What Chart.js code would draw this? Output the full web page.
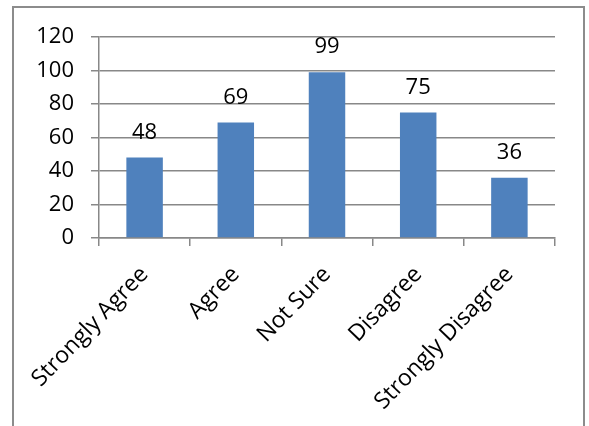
<!DOCTYPE html>
<html>
<head>
<meta charset="utf-8">
<script src="https://cdn.jsdelivr.net/npm/chart.js@4/dist/chart.umd.min.js"></script>
<style>
    html, body { margin: 0; padding: 0; background: #fff; }
    body { width: 589px; height: 426px; position: relative; overflow: hidden; }
    #frame {
        position: absolute; left: 12px; top: 6px; width: 573px; height: 440px;
        border: 2px solid #8c8c8c; box-sizing: border-box;
    }
    #wrap { position: absolute; left: 0; top: 0; width: 589px; height: 426px; }
</style>
</head>
<body>
<div id="frame"></div>
<div id="wrap"><canvas id="chart" width="589" height="426"></canvas></div>
<script>
const categories = ['Strongly Agree', 'Agree', 'Not Sure', 'Disagree', 'Strongly Disagree'];
const responses = [48, 69, 99, 75, 36];
const yTicks = [0, 20, 40, 60, 80, 100, 120];

const lineColor = '#888888';
const fontFamily = "'Open Sans', sans-serif";

// value labels above each bar
const barLabels = {
    id: 'barLabels',
    afterDatasetsDraw(chart) {
        const ctx = chart.ctx;
        const meta = chart.getDatasetMeta(0);
        ctx.save();
        ctx.font = '22px ' + fontFamily;
        ctx.fillStyle = '#000';
        ctx.textAlign = 'center';
        ctx.textBaseline = 'middle';
        meta.data.forEach((bar, i) => {
            ctx.fillText(String(responses[i]), bar.x, bar.y - 25);
        });
        ctx.restore();
    }
};

new Chart(document.getElementById('chart'), {
    type: 'bar',
    data: {
        labels: categories,
        datasets: [{
            data: responses,
            backgroundColor: '#4F81BD',
            borderWidth: 0,
            barPercentage: 0.4,
            categoryPercentage: 1
        }]
    },
    options: {
        responsive: false,
        animation: false,
        layout: { padding: { top: 37, right: 34, left: 0, bottom: 0 } },
        plugins: {
            legend: { display: false },
            tooltip: { enabled: false }
        },
        scales: {
            x: {
                grid: {
                    drawOnChartArea: false,
                    drawTicks: true,
                    tickLength: 8,
                    color: lineColor,
                    lineWidth: 1.5
                },
                border: { display: true, color: lineColor, width: 1.5 },
                ticks: {
                    color: '#000',
                    font: { family: fontFamily, size: 23 },
                    maxRotation: 46,
                    minRotation: 46,
                    padding: 15
                },
                afterFit(scale) { scale.height = 188; }
            },
            y: {
                min: 0,
                max: 120,
                afterBuildTicks(scale) {
                    scale.ticks = yTicks.map(v => ({ value: v }));
                },
                grid: {
                    color: lineColor,
                    lineWidth: 1.5,
                    drawTicks: true,
                    tickLength: 8
                },
                border: { display: true, color: lineColor, width: 1.5 },
                ticks: {
                    color: '#000',
                    font: { family: fontFamily, size: 22 },
                    padding: 17
                },
                afterFit(scale) { scale.width = 99; }
            }
        }
    },
    plugins: [barLabels]
});
</script>
</body>
</html>
